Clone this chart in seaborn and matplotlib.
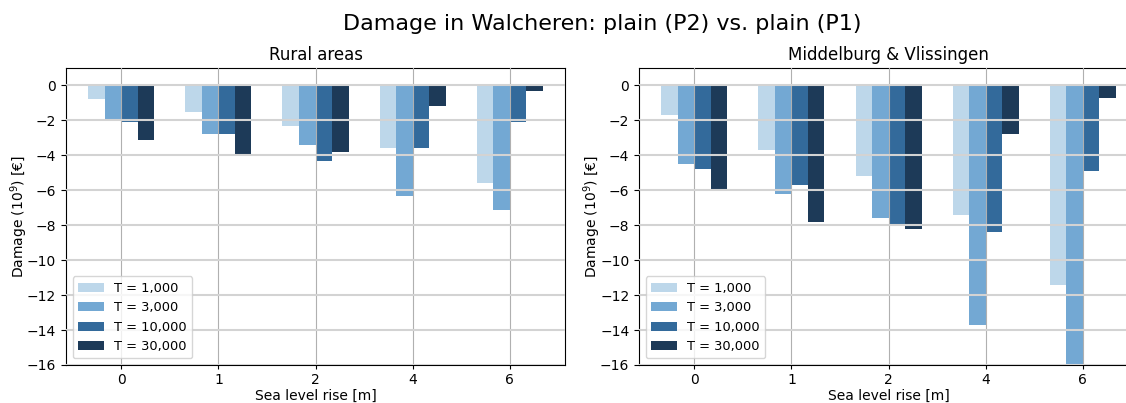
import numpy as np
import pandas as pd
import matplotlib
matplotlib.use("Agg")
import matplotlib.pyplot as plt
import seaborn as sns

# Sea level rise scenarios (m) and return periods
slr_labels = ["0", "1", "2", "4", "6"]
return_periods = ["T = 1,000", "T = 3,000", "T = 10,000", "T = 30,000"]

# Damage difference (10^9 EUR), one list per return period
rural_t1000 = [-0.78, -1.52, -2.32, -3.58, -5.58]
rural_t3000 = [-1.95, -2.78, -3.41, -6.32, -7.12]
rural_t10000 = [-2.10, -2.78, -4.32, -3.58, -2.10]
rural_t30000 = [-3.14, -3.98, -3.81, -1.18, -0.33]

urban_t1000 = [-1.70, -3.70, -5.18, -7.41, -11.41]
urban_t3000 = [-4.49, -6.21, -7.58, -13.70, -16.30]
urban_t10000 = [-4.78, -5.69, -7.96, -8.38, -4.90]
urban_t30000 = [-5.96, -7.81, -8.21, -2.78, -0.72]

colors = ["#bdd7ea", "#73a8d3", "#336a9b", "#1d3a58"]


def long_form(series):
    rows = []
    for label, values in zip(return_periods, series):
        for slr, v in zip(slr_labels, values):
            rows.append({"slr": slr, "T": label, "damage": v})
    return pd.DataFrame(rows)


rural = long_form([rural_t1000, rural_t3000, rural_t10000, rural_t30000])
urban = long_form([urban_t1000, urban_t3000, urban_t10000, urban_t30000])

plt.rcdefaults()
plt.rcParams["font.family"] = ["DejaVu Sans"]

fig = plt.figure(figsize=(11.26, 4.03), dpi=100)
ax1 = fig.add_axes([0.0586, 0.0943, 0.4432, 0.737])
ax2 = fig.add_axes([0.5675, 0.0943, 0.4432, 0.737])

for ax, df, title in [(ax1, rural, "Rural areas"),
                      (ax2, urban, "Middelburg & Vlissingen")]:
    sns.barplot(data=df, x="slr", y="damage", hue="T", order=slr_labels,
                hue_order=return_periods, palette=colors, width=0.68,
                saturation=1, linewidth=0, ax=ax)
    ax.set_axisbelow(False)
    ax.yaxis.grid(True, color="#d3d3d3", linewidth=1.5)
    ax.xaxis.grid(True, color="#b0b0b0", linewidth=0.8)
    ax.set_xlim(-0.57, 4.57)
    ax.set_ylim(-16, 1)
    ax.set_yticks(np.arange(-16, 1, 2))
    ax.set_title(title, fontsize=12)
    ax.set_xlabel("Sea level rise [m]", fontsize=10, labelpad=1.5)
    ax.set_ylabel("Damage (10$^9$) [€]", fontsize=10, labelpad=-2)
    ax.tick_params(labelsize=10)
    ax.tick_params(axis="x", length=3, pad=2.5)
    ax.legend(loc="lower left", fontsize=9.4, title=None, framealpha=0.8)

fig.suptitle("Damage in Walcheren: plain (P2) vs. plain (P1)", fontsize=16,
             x=0.535, y=0.965)

fig.savefig("out.png", dpi=100)
